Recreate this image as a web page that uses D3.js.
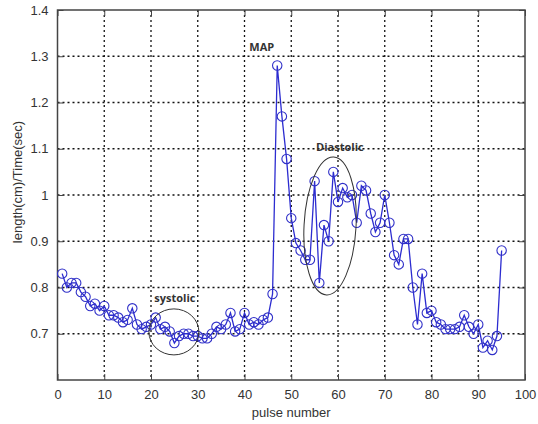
<!doctype html>
<html>
    <head>
        <script src="https://d3js.org/d3.v7.min.js"></script>
        <style>
            body { margin: 0; background: #fff; }
            .tick text { font-family: "Liberation Sans", Arial, sans-serif; font-size: 13px; fill: #333; }
            .note { font-family: "Open Sans", sans-serif; font-weight: bold; font-size: 11px; fill: #333; }
        </style>
    </head>

    <body>
        <div id="my_dataviz"></div>
        <script>
            // pulse values (pulse 1..95)
            var pulseValues = [
                0.83, 0.80, 0.81, 0.81, 0.79, 0.78, 0.76, 0.765, 0.75, 0.76,
                0.74, 0.74, 0.735, 0.725, 0.73, 0.755, 0.72, 0.71, 0.715, 0.72,
                0.735, 0.71, 0.715, 0.705, 0.68, 0.695, 0.70, 0.70, 0.695, 0.695,
                0.69, 0.69, 0.70, 0.715, 0.71, 0.72, 0.745, 0.705, 0.71, 0.745,
                0.72, 0.725, 0.72, 0.73, 0.735, 0.786, 1.28, 1.17, 1.078, 0.95,
                0.896, 0.88, 0.86, 0.86, 1.03, 0.81, 0.935, 0.90, 1.05, 0.985,
                1.015, 0.995, 1.0, 0.94, 1.02, 1.01, 0.96, 0.92, 0.94, 1.0,
                0.94, 0.87, 0.85, 0.905, 0.905, 0.80, 0.72, 0.83, 0.745, 0.75,
                0.725, 0.72, 0.71, 0.71, 0.71, 0.715, 0.74, 0.715, 0.70, 0.72,
                0.67, 0.685, 0.665, 0.695, 0.88
            ];
            var xTicks = [0, 10, 20, 30, 40, 50, 60, 70, 80, 90, 100];
            var yTicks = [0.7, 0.8, 0.9, 1.0, 1.1, 1.2, 1.3, 1.4];
            var yGrid = [0.7, 0.8, 0.9, 1.0, 1.1, 1.2, 1.3];
            var xGrid = [10, 20, 30, 40, 50, 60, 70, 80, 90];

            // annotations: label, x, y (data units)
            var notes = [
                {text: "MAP", x: 43.7, y: 1.32},
                {text: "Diastolic", x: 60.4, y: 1.104},
                {text: "systolic", x: 25.1, y: 0.777}
            ];
            var ellipses = [
                {x: 24.9, y: 0.704, rx: 25, ry: 23, rot: 0},
                {x: 58.3, y: 0.933, rx: 26, ry: 69, rot: 3}
            ];

            var data = pulseValues.map(function(v, i) { return {n: i + 1, v: v}; });

            var margin = {top: 10, right: 13, bottom: 44, left: 57.5},
                width = 538 - margin.left - margin.right,
                height = 424 - margin.top - margin.bottom;

            var svg = d3.select("#my_dataviz")
            .append("svg")
                .attr("width", 538)
                .attr("height", 424)
            .append("g")
                .attr("transform", "translate(" + margin.left + "," + margin.top + ")");

            var x = d3.scaleLinear().domain([0, 100]).range([0, width]);
            var y = d3.scaleLinear().domain([0.6, 1.4]).range([height, 0]);

            // dotted grid
            svg.selectAll(".gx").data(xGrid).enter().append("line")
                .attr("x1", function(d) { return x(d); }).attr("x2", function(d) { return x(d); })
                .attr("y1", 0).attr("y2", height)
                .attr("stroke", "#111").attr("stroke-width", 1.3).attr("stroke-dasharray", "2,3");
            svg.selectAll(".gy").data(yGrid).enter().append("line")
                .attr("y1", function(d) { return y(d); }).attr("y2", function(d) { return y(d); })
                .attr("x1", 0).attr("x2", width)
                .attr("stroke", "#111").attr("stroke-width", 1.3).attr("stroke-dasharray", "2,3");

            // axes, ticks pointing inward
            var fmt = function(d) { return d3.format("")(+d.toFixed(1)); };
            svg.append("g")
                .attr("transform", "translate(0," + height + ")")
                .call(d3.axisBottom(x).tickValues(xTicks).tickSize(-6).tickPadding(10))
                .call(function(g) { g.select(".domain").remove(); });
            svg.append("g")
                .call(d3.axisTop(x).tickValues(xTicks).tickSize(-6).tickFormat(""))
                .call(function(g) { g.select(".domain").remove(); });
            svg.append("g")
                .call(d3.axisLeft(y).tickValues(yTicks).tickSize(-6).tickPadding(9).tickFormat(fmt))
                .call(function(g) { g.select(".domain").remove(); });
            svg.append("g")
                .attr("transform", "translate(" + width + ",0)")
                .call(d3.axisRight(y).tickValues(yTicks).tickSize(-6).tickFormat(""))
                .call(function(g) { g.select(".domain").remove(); });
            svg.selectAll(".tick line").attr("stroke", "#444");

            svg.append("rect")
                .attr("width", width).attr("height", height)
                .attr("fill", "none").attr("stroke", "#444").attr("stroke-width", 1.5);

            // the line
            svg.append("path")
                .datum(data)
                .attr("fill", "none")
                .attr("stroke", "#2c2cd0")
                .attr("stroke-width", 1.3)
                .attr("d", d3.line()
                    .x(function(d) { return x(d.n); })
                    .y(function(d) { return y(d.v); }));

            // open circle markers
            svg.selectAll(".pt").data(data).enter().append("circle")
                .attr("cx", function(d) { return x(d.n); })
                .attr("cy", function(d) { return y(d.v); })
                .attr("r", 4.7)
                .attr("fill", "none")
                .attr("stroke", "#3030c8")
                .attr("stroke-width", 1.1);

            // ellipses and labels
            svg.selectAll(".ell").data(ellipses).enter().append("ellipse")
                .attr("transform", function(d) { return "translate(" + x(d.x) + "," + y(d.y) + ") rotate(" + d.rot + ")"; })
                .attr("rx", function(d) { return d.rx; })
                .attr("ry", function(d) { return d.ry; })
                .attr("fill", "none").attr("stroke", "#333").attr("stroke-width", 1);

            svg.selectAll(".note").data(notes).enter().append("text")
                .attr("class", "note")
                .attr("text-anchor", "middle")
                .attr("x", function(d) { return x(d.x); })
                .attr("y", function(d) { return y(d.y); })
                .attr("dy", "0.35em")
                .text(function(d) { return d.text; });

            // axis labels
            svg.append("text")
                .attr("text-anchor", "middle")
                .attr("x", width / 2)
                .attr("y", height + 37)
                .style("font-family", "Liberation Sans, Arial, sans-serif")
                .style("font-size", "13px").style("fill", "#333")
                .text("pulse number");

            svg.append("text")
                .attr("text-anchor", "middle")
                .attr("transform", "rotate(-90)")
                .attr("x", -172)
                .attr("y", -36)
                .style("font-family", "Liberation Sans, Arial, sans-serif")
                .style("font-size", "13px").style("fill", "#333")
                .text("length(cm)/Time(sec)");
        </script>
    </body>
</html>
